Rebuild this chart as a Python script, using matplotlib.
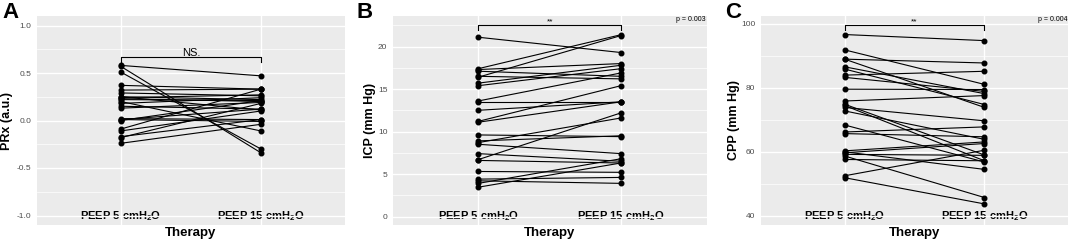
import matplotlib
matplotlib.use('Agg')
import matplotlib.pyplot as plt
import numpy as np
from matplotlib.ticker import MultipleLocator, FuncFormatter

plt.rcParams['font.family'] = ['Liberation Sans', 'DejaVu Sans']
plt.rcParams['mathtext.fontset'] = 'custom'
plt.rcParams['mathtext.bf'] = 'Liberation Sans:bold'
plt.rcParams['mathtext.rm'] = 'Liberation Sans:bold'
plt.rcParams['mathtext.default'] = 'bf'
plt.rcParams['axes.unicode_minus'] = False

categories = ['PEEP 5 cmH$_2$O', 'PEEP 15 cmH$_2$O']
x_label = 'Therapy'

prx_peep5 = [0.58, 0.57, 0.51, 0.37, 0.32, 0.29, 0.25, 0.24, 0.23, 0.22, 0.20, 0.18,
             0.15, 0.13, 0.02, 0.01, 0.00, -0.09, -0.11, -0.17, -0.18, -0.24, 0.25, 0.01]
prx_peep15 = [0.47, -0.34, -0.30, 0.33, 0.33, 0.26, 0.22, 0.27, 0.20, 0.21, -0.11, 0.24,
              0.12, 0.19, 0.01, 0.12, 0.21, 0.33, 0.10, 0.01, 0.18, -0.04, 0.11, -0.01]

icp_peep5 = [21.1, 17.4, 16.4, 17.3, 17.1, 15.7, 15.4, 13.6, 13.5, 12.5, 11.2, 11.1, 9.6,
             8.9, 8.7, 8.5, 7.4, 6.7, 6.6, 5.3, 4.4, 3.9, 3.45, 4.2, 16.5]
icp_peep15 = [19.3, 21.4, 21.3, 18.0, 16.5, 17.8, 17.4, 16.9, 13.5, 13.5, 15.4, 13.5, 9.4,
              9.5, 11.6, 7.4, 6.5, 12.2, 6.3, 5.2, 4.6, 6.8, 6.3, 3.9, 16.2]

cpp_peep5 = [96.7, 91.9, 89.0, 89.0, 86.6, 85.9, 84.0, 83.3, 79.6, 75.9, 74.5, 73.9, 72.8,
             68.4, 66.2, 65.7, 60.3, 59.7, 59.2, 58.7, 57.6, 52.5, 51.9, 60.0, 74.9]
cpp_peep15 = [94.8, 81.1, 87.8, 73.9, 78.2, 74.8, 85.2, 78.9, 79.5, 77.6, 57.2, 69.7, 63.9,
              56.8, 67.8, 64.7, 63.1, 62.6, 58.9, 45.7, 57.2, 60.5, 43.7, 54.5, 59.0]

panel_letters = ['A', 'B', 'C']
y_labels = ['PRx (a.u.)', 'ICP (mm Hg)', 'CPP (mm Hg)']
sig_labels = ['NS.', '**', '**']
p_labels = [None, 'p = 0.003', 'p = 0.004']

W, H = 1072, 242
fig = plt.figure(figsize=(W / 100, H / 100), dpi=100)

# panel pixel geometry: (left, right)
panels_px = [(36.7, 345.0), (392.7, 706.7), (760.7, 1068.3)]
top_px, bot_px = 16.0, 225.0
ylims = [(-1.1, 1.1), (-1.0, 23.6), (37.1, 102.5)]
majors = [0.5, 5, 20]
minors = [0.25, 2.5, 10]
fmts = ['%.1f', '%d', '%d']
brackets = [(0.667, 0.047), (22.5, 0.53), (99.6, 1.41)]
sig_y = [(0.708, 'center', 8), (22.78, 'baseline', 6), (100.28, 'baseline', 6)]
ylabel_x = [7.2, 369.5, 734.0]
letter_x = [2, 357, 725]

data = [(prx_peep5, prx_peep15), (icp_peep5, icp_peep15), (cpp_peep5, cpp_peep15)]

for i in range(3):
    l, r = panels_px[i]
    ax = fig.add_axes([l / W, 1 - bot_px / H, (r - l) / W, (bot_px - top_px) / H])
    ax.set_facecolor('#EBEBEB')
    for s in ax.spines.values():
        s.set_visible(False)
    ax.set_xlim(0.4, 2.6)
    ax.set_ylim(*ylims[i])
    ax.yaxis.set_major_locator(MultipleLocator(majors[i]))
    ax.yaxis.set_minor_locator(MultipleLocator(minors[i]))
    ax.yaxis.set_major_formatter(FuncFormatter(lambda v, p, f=fmts[i]: f % v))
    ax.set_xticks([1, 2], categories)
    ax.grid(which='major', color='white', lw=1.0)
    ax.grid(which='minor', axis='y', color='white', lw=0.5)
    ax.set_axisbelow(True)
    ax.tick_params(which='both', length=0)
    ax.tick_params(axis='y', labelsize=6, labelcolor='#4D4D4D', pad=3.8)
    ax.tick_params(axis='x', labelsize=8, labelcolor='black', pad=-11.5)
    for t in ax.get_xticklabels():
        t.set_fontweight('bold')

    pre, post = data[i]
    n = len(pre)
    xs = np.vstack([np.ones(n), np.full(n, 2.0)])
    ys = np.vstack([pre, post])
    ax.plot(xs, ys, color='black', lw=0.8, marker='o', ms=3.3, zorder=3)

    by, tip = brackets[i]
    ax.plot([1, 1, 2, 2], [by - tip, by, by, by - tip], color='black', lw=0.8, zorder=3)
    sy, va, fs = sig_y[i]
    ax.text(1.5, sy, sig_labels[i], ha='center', va=va, fontsize=fs)
    if p_labels[i]:
        ax.text(0.997, (bot_px - 19.5) / (bot_px - top_px), p_labels[i],
                transform=ax.transAxes, ha='right', va='center', fontsize=5)

    ax.set_xlabel(x_label, fontsize=9.5, fontweight='bold')
    ax.xaxis.set_label_coords(0.5, (bot_px - 233.3) / (bot_px - top_px))
    ax.xaxis.label.set_va('center')
    ax.set_ylabel(y_labels[i], fontsize=9, fontweight='bold')
    ax.yaxis.set_label_coords((ylabel_x[i] - l) / (r - l), 0.5)
    ax.yaxis.label.set_va('center')

    fig.text(letter_x[i] / W, 1 - 18.3 / H, panel_letters[i], fontsize=16,
             fontweight='bold', ha='left', va='baseline')

fig.savefig('out.png', dpi=100)
